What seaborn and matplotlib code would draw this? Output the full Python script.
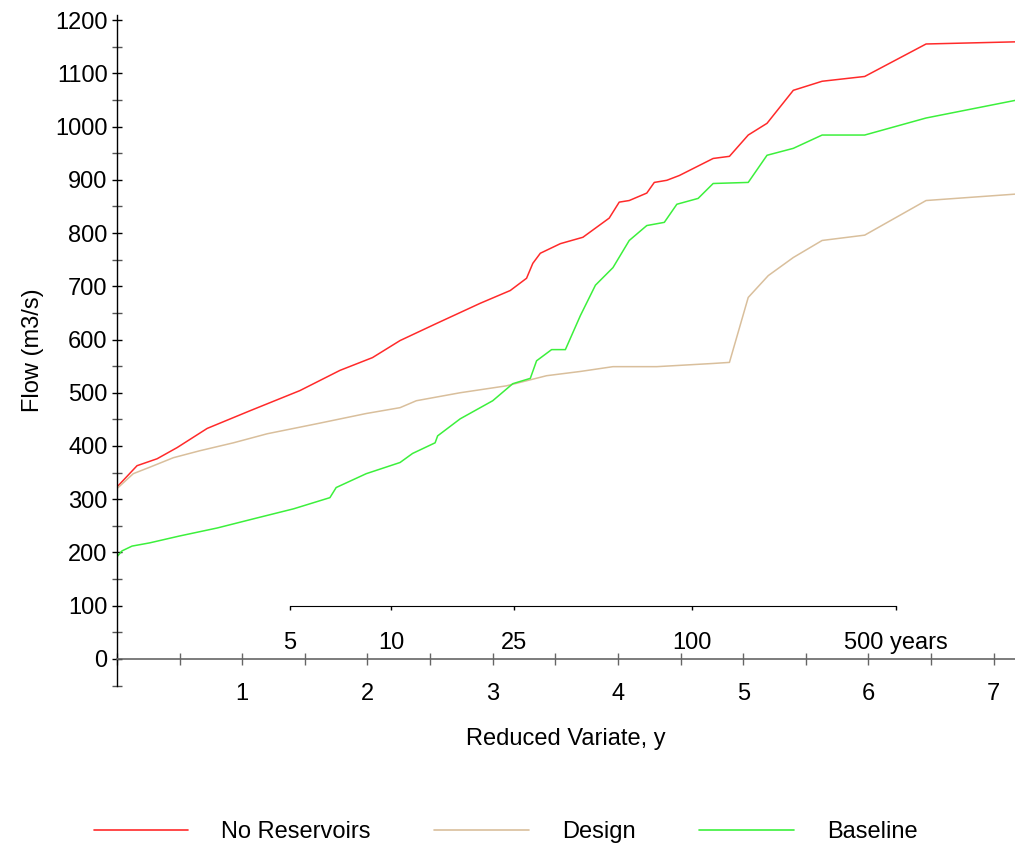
import matplotlib.pyplot as plt
import pandas as pd
import seaborn as sns
from matplotlib.lines import Line2D
from matplotlib.ticker import MultipleLocator

# Reduced variate (x) and flow (m3/s)
no_res_y = [0.00, 0.16, 0.32, 0.48, 0.72, 1.06, 1.46, 1.78, 2.04, 2.26, 2.55,
            2.90, 3.14, 3.27, 3.32, 3.38, 3.54, 3.72, 3.93, 4.01, 4.09, 4.23,
            4.29, 4.39, 4.49, 4.76, 4.89, 5.04, 5.19, 5.40, 5.63, 5.97, 6.46,
            7.17]
no_res_q = [323, 363, 376, 397, 433, 466, 504, 542, 566, 598, 630,
            668, 692, 715, 743, 762, 780, 792, 828, 858, 861, 875,
            895, 899, 908, 940, 944, 984, 1006, 1068, 1085, 1094, 1155,
            1159]

design_y = [0.00, 0.13, 0.26, 0.45, 0.66, 0.93, 1.20, 1.60, 1.99, 2.26, 2.39,
            2.74, 3.11, 3.43, 3.70, 3.96, 4.31, 4.76, 4.89, 5.04, 5.20, 5.40,
            5.63, 5.97, 6.46, 7.17]
design_q = [320, 348, 360, 378, 391, 406, 423, 442, 461, 472, 485,
            500, 513, 532, 540, 549, 549, 555, 557, 679, 720, 754,
            786, 796, 861, 873]

baseline_y = [0.00, 0.04, 0.12, 0.26, 0.50, 0.80, 1.12, 1.41, 1.70, 1.75, 1.99,
              2.26, 2.36, 2.54, 2.56, 2.74, 3.00, 3.16, 3.30, 3.35, 3.47, 3.58,
              3.64, 3.70, 3.82, 3.96, 4.09, 4.23, 4.37, 4.47, 4.64, 4.76, 5.04,
              5.19, 5.40, 5.63, 5.97, 6.46, 7.17]
baseline_q = [192, 203, 212, 218, 231, 246, 265, 282, 303, 322, 348,
              369, 386, 406, 419, 451, 485, 517, 527, 560, 581, 581,
              613, 645, 702, 735, 786, 814, 820, 854, 865, 893, 895,
              946, 959, 984, 984, 1016, 1049]

series_names = ["No Reservoirs", "Design", "Baseline"]
series_colors = ["#ff2a2a", "#d9bf9c", "#3cf03c"]

# return period scale (reduced variate positions)
rp_pos = [1.38, 2.19, 3.17, 4.59, 6.22]
rp_labels = ["5", "10", "25", "100", "500 years"]

df = pd.concat([
    pd.DataFrame({"y": no_res_y, "flow": no_res_q, "series": series_names[0]}),
    pd.DataFrame({"y": design_y, "flow": design_q, "series": series_names[1]}),
    pd.DataFrame({"y": baseline_y, "flow": baseline_q, "series": series_names[2]}),
])

sns.set_style("white")
plt.rcParams["font.family"] = ["Liberation Sans", "DejaVu Sans"]
plt.rcParams["font.size"] = 17
plt.rcParams["text.color"] = "black"
plt.rcParams["axes.labelcolor"] = "black"
plt.rcParams["xtick.color"] = "black"
plt.rcParams["ytick.color"] = "black"

fig = plt.figure(figsize=(10.15, 8.47), dpi=100)
ylo, yhi = -50, 1210
ax = fig.add_axes([117 / 1015, 1 - 685.6 / 847, 898 / 1015, (685.6 - 14.7) / 847])

sns.lineplot(data=df, x="y", y="flow", hue="series", palette=series_colors,
             hue_order=series_names, estimator=None, sort=False,
             linewidth=1.1, legend=False, ax=ax)

ax.set_xlim(0, 7.17)
ax.set_ylim(ylo, yhi)

for s in ["top", "right"]:
    ax.spines[s].set_visible(False)
ax.spines["left"].set_color("black")
ax.spines["left"].set_linewidth(1)
ax.spines["bottom"].set_position(("data", 0))
ax.spines["bottom"].set_color("#666666")
ax.spines["bottom"].set_linewidth(1.2)

ax.set_yticks(range(0, 1201, 100))
ax.yaxis.set_minor_locator(MultipleLocator(50))
ax.tick_params(axis="y", which="both", left=True, direction="inout", length=7.5,
               width=1, colors="black", pad=3, labelsize=17)
ax.tick_params(axis="y", which="minor", color="#555555")

ax.set_xticks(range(1, 8))
ax.xaxis.set_minor_locator(MultipleLocator(0.5))
ax.tick_params(axis="x", which="both", bottom=True, direction="inout", length=9,
               width=1, color="#666666", labelcolor="black", pad=13, labelsize=17)

ax.set_xlabel("Reduced Variate, y", fontsize=17, labelpad=16)
ax.set_ylabel("Flow (m3/s)", fontsize=17, labelpad=8)

# secondary return-period scale drawn at flow = 100
sec = ax.secondary_xaxis((100 - ylo) / (yhi - ylo))
sec.set_xticks(rp_pos)
sec.set_xticklabels(rp_labels)
sec.tick_params(axis="x", bottom=True, direction="out", length=3, width=1,
                colors="black", pad=16, labelsize=17)
sec.spines["bottom"].set_bounds(rp_pos[0], rp_pos[-1])
sec.spines["bottom"].set_color("black")

handles = [Line2D([], [], color=c, linewidth=1.2) for c in series_colors]
fig.legend(handles, series_names, loc="center", bbox_to_anchor=(0.498, 1 - 832 / 847),
           ncol=3, frameon=False, fontsize=17, handlelength=4,
           handletextpad=1.4, columnspacing=2.7)

fig.savefig("out.png", dpi=100)
